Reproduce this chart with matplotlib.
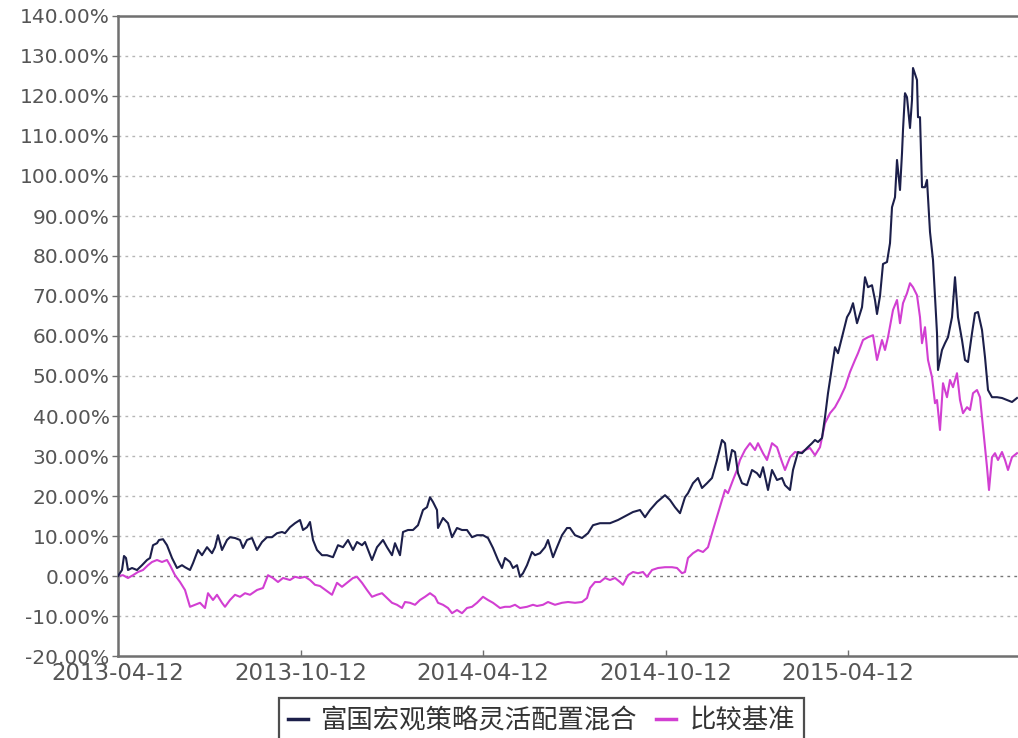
import matplotlib
matplotlib.use("Agg")
import matplotlib.pyplot as plt
import pandas as pd

# 富国宏观策略灵活配置混合 - cumulative return (%)
fund_dates = [
    "2013-04-12", "2013-04-16", "2013-04-18", "2013-04-20", "2013-04-22", "2013-04-26",
    "2013-05-01", "2013-05-06", "2013-05-11", "2013-05-14", "2013-05-17", "2013-05-21",
    "2013-05-23", "2013-05-27", "2013-05-31", "2013-06-05", "2013-06-10", "2013-06-15",
    "2013-06-18", "2013-06-23", "2013-06-26", "2013-07-01", "2013-07-05", "2013-07-10",
    "2013-07-15", "2013-07-18", "2013-07-21", "2013-07-25", "2013-07-30", "2013-08-02",
    "2013-08-07", "2013-08-12", "2013-08-15", "2013-08-19", "2013-08-24", "2013-08-29",
    "2013-09-03", "2013-09-08", "2013-09-13", "2013-09-18", "2013-09-23", "2013-09-26",
    "2013-10-01", "2013-10-06", "2013-10-11", "2013-10-14", "2013-10-18", "2013-10-21",
    "2013-10-24", "2013-10-28", "2013-11-02", "2013-11-07", "2013-11-13", "2013-11-18",
    "2013-11-23", "2013-11-28", "2013-12-03", "2013-12-07", "2013-12-12", "2013-12-15",
    "2013-12-22", "2013-12-27", "2014-01-02", "2014-01-06", "2014-01-11", "2014-01-14",
    "2014-01-19", "2014-01-22", "2014-01-27", "2014-02-01", "2014-02-06", "2014-02-11",
    "2014-02-15", "2014-02-18", "2014-02-21", "2014-02-25", "2014-02-26", "2014-03-03",
    "2014-03-08", "2014-03-12", "2014-03-17", "2014-03-22", "2014-03-27", "2014-04-01",
    "2014-04-06", "2014-04-12", "2014-04-17", "2014-04-22", "2014-04-27", "2014-05-01",
    "2014-05-04", "2014-05-09", "2014-05-12", "2014-05-16", "2014-05-19", "2014-05-22",
    "2014-05-26", "2014-05-31", "2014-06-03", "2014-06-08", "2014-06-13", "2014-06-16",
    "2014-06-21", "2014-06-25", "2014-06-30", "2014-07-05", "2014-07-08", "2014-07-13",
    "2014-07-20", "2014-07-26", "2014-07-31", "2014-08-07", "2014-08-17", "2014-08-25",
    "2014-09-03", "2014-09-09", "2014-09-16", "2014-09-21", "2014-09-26", "2014-10-03",
    "2014-10-11", "2014-10-16", "2014-10-21", "2014-10-26", "2014-10-31", "2014-11-03",
    "2014-11-08", "2014-11-13", "2014-11-17", "2014-11-22", "2014-11-27", "2014-12-02",
    "2014-12-07", "2014-12-10", "2014-12-13", "2014-12-17", "2014-12-20", "2014-12-23",
    "2014-12-27", "2015-01-01", "2015-01-06", "2015-01-11", "2015-01-14", "2015-01-17",
    "2015-01-22", "2015-01-26", "2015-01-31", "2015-02-05", "2015-02-08", "2015-02-13",
    "2015-02-16", "2015-02-21", "2015-02-25", "2015-03-02", "2015-03-07", "2015-03-10",
    "2015-03-13", "2015-03-17", "2015-03-20", "2015-03-23", "2015-03-27", "2015-03-30",
    "2015-04-02", "2015-04-07", "2015-04-11", "2015-04-14", "2015-04-17", "2015-04-21",
    "2015-04-26", "2015-04-29", "2015-05-02", "2015-05-06", "2015-05-09", "2015-05-11",
    "2015-05-14", "2015-05-17", "2015-05-21", "2015-05-24", "2015-05-26", "2015-05-29",
    "2015-05-31", "2015-06-03", "2015-06-05", "2015-06-06", "2015-06-08", "2015-06-10",
    "2015-06-13", "2015-06-15", "2015-06-16", "2015-06-20", "2015-06-21", "2015-06-23",
    "2015-06-25", "2015-06-28", "2015-06-30", "2015-07-03", "2015-07-06", "2015-07-08",
    "2015-07-10", "2015-07-11", "2015-07-15", "2015-07-18", "2015-07-21", "2015-07-25",
    "2015-07-28", "2015-07-31", "2015-08-04", "2015-08-07", "2015-08-10", "2015-08-14",
    "2015-08-17", "2015-08-20", "2015-08-24", "2015-08-27", "2015-08-30", "2015-09-03",
    "2015-09-08", "2015-09-13", "2015-09-18", "2015-09-23", "2015-09-28",
]
fund_values = [
    0.0, 1.5, 5.0, 4.5, 1.5, 2.0,
    1.5, 2.7, 4.0, 4.5, 7.7, 8.2,
    9.0, 9.2, 7.7, 4.5, 2.0, 2.7,
    2.2, 1.5, 3.2, 6.5, 5.2, 7.2,
    5.7, 7.2, 10.2, 6.5, 9.0, 9.7,
    9.5, 9.0, 7.0, 9.0, 9.5, 6.5,
    8.5, 9.7, 9.7, 10.7, 11.0, 10.7,
    12.2, 13.2, 14.0, 11.5, 12.2, 13.5,
    9.0, 6.5, 5.2, 5.2, 4.7, 7.7,
    7.2, 9.0, 6.5, 8.5, 7.7, 8.5,
    4.0, 7.2, 9.0, 7.2, 5.2, 8.2,
    5.2, 11.0, 11.5, 11.5, 12.7, 16.5,
    17.2, 19.7, 18.5, 16.5, 12.0, 14.5,
    13.2, 9.7, 12.0, 11.5, 11.5, 9.7,
    10.2, 10.2, 9.5, 7.0, 4.0, 2.0,
    4.5, 3.5, 2.0, 2.7, -0.2, 0.7,
    2.7, 6.0, 5.2, 5.7, 7.2, 9.0,
    4.7, 7.2, 10.2, 12.0, 12.0, 10.2,
    9.5, 10.7, 12.7, 13.2, 13.2, 14.0,
    15.2, 16.0, 16.5, 14.7, 16.5, 18.5,
    20.2, 19.0, 17.2, 15.7, 19.7, 20.7,
    23.2, 24.5, 22.0, 23.2, 24.5, 29.0,
    34.0, 33.2, 26.5, 31.5, 31.0, 25.7,
    23.2, 22.7, 26.5, 25.7, 24.7, 27.2,
    21.5, 26.5, 24.0, 24.5, 22.7, 21.5,
    26.5, 31.0, 30.7, 32.0, 33.2, 34.0,
    33.5, 34.5, 39.7, 45.7, 52.2, 57.2,
    55.7, 60.7, 64.7, 66.0, 68.2, 63.2,
    67.2, 74.7, 72.2, 72.7, 69.0, 65.5,
    70.0, 78.0, 78.5, 83.2, 92.2, 94.7,
    104.0, 96.5, 105.7, 111.5, 120.7, 119.7,
    112.0, 119.0, 127.0, 124.0, 114.7, 114.7,
    97.2, 97.2, 99.0, 86.0, 79.0, 69.7,
    60.7, 51.5, 56.5, 58.2, 59.7, 64.7,
    74.7, 64.7, 59.0, 54.0, 53.5, 60.7,
    65.7, 66.0, 61.5, 54.7, 46.5, 44.7,
    44.7, 44.5, 44.0, 43.5, 44.5,
]

# 比较基准 - cumulative return (%)
bench_dates = [
    "2013-04-12", "2013-04-17", "2013-04-22", "2013-04-27", "2013-05-02", "2013-05-07",
    "2013-05-12", "2013-05-16", "2013-05-21", "2013-05-26", "2013-05-31", "2013-06-03",
    "2013-06-08", "2013-06-13", "2013-06-18", "2013-06-23", "2013-06-28", "2013-07-03",
    "2013-07-08", "2013-07-11", "2013-07-16", "2013-07-20", "2013-07-25", "2013-07-28",
    "2013-08-02", "2013-08-07", "2013-08-12", "2013-08-17", "2013-08-22", "2013-08-29",
    "2013-09-04", "2013-09-09", "2013-09-14", "2013-09-19", "2013-09-24", "2013-10-01",
    "2013-10-06", "2013-10-11", "2013-10-16", "2013-10-21", "2013-10-26", "2013-10-31",
    "2013-11-07", "2013-11-12", "2013-11-17", "2013-11-22", "2013-11-27", "2013-12-03",
    "2013-12-07", "2013-12-12", "2013-12-17", "2013-12-22", "2013-12-27", "2014-01-01",
    "2014-01-06", "2014-01-11", "2014-01-16", "2014-01-21", "2014-01-24", "2014-01-29",
    "2014-02-03", "2014-02-08", "2014-02-13", "2014-02-18", "2014-02-23", "2014-02-26",
    "2014-03-03", "2014-03-08", "2014-03-12", "2014-03-17", "2014-03-22", "2014-03-27",
    "2014-04-01", "2014-04-06", "2014-04-12", "2014-04-17", "2014-04-22", "2014-04-29",
    "2014-05-04", "2014-05-09", "2014-05-14", "2014-05-19", "2014-05-26", "2014-06-01",
    "2014-06-05", "2014-06-11", "2014-06-16", "2014-06-23", "2014-06-30", "2014-07-06",
    "2014-07-13", "2014-07-20", "2014-07-25", "2014-07-28", "2014-08-02", "2014-08-07",
    "2014-08-12", "2014-08-17", "2014-08-22", "2014-08-27", "2014-08-30", "2014-09-04",
    "2014-09-09", "2014-09-14", "2014-09-19", "2014-09-23", "2014-09-28", "2014-10-04",
    "2014-10-11", "2014-10-18", "2014-10-23", "2014-10-28", "2014-10-31", "2014-11-03",
    "2014-11-08", "2014-11-13", "2014-11-18", "2014-11-23", "2014-11-28", "2014-12-03",
    "2014-12-07", "2014-12-10", "2014-12-13", "2014-12-18", "2014-12-22", "2014-12-25",
    "2014-12-30", "2015-01-04", "2015-01-09", "2015-01-12", "2015-01-17", "2015-01-21",
    "2015-01-26", "2015-01-31", "2015-02-05", "2015-02-08", "2015-02-13", "2015-02-18",
    "2015-02-23", "2015-02-28", "2015-03-05", "2015-03-10", "2015-03-15", "2015-03-20",
    "2015-03-25", "2015-03-30", "2015-04-04", "2015-04-09", "2015-04-14", "2015-04-19",
    "2015-04-22", "2015-04-27", "2015-05-02", "2015-05-07", "2015-05-11", "2015-05-16",
    "2015-05-19", "2015-05-22", "2015-05-27", "2015-05-31", "2015-06-03", "2015-06-06",
    "2015-06-10", "2015-06-13", "2015-06-16", "2015-06-20", "2015-06-23", "2015-06-25",
    "2015-06-28", "2015-07-01", "2015-07-05", "2015-07-08", "2015-07-10", "2015-07-13",
    "2015-07-16", "2015-07-20", "2015-07-23", "2015-07-26", "2015-07-30", "2015-08-02",
    "2015-08-05", "2015-08-09", "2015-08-12", "2015-08-15", "2015-08-19", "2015-08-22",
    "2015-08-25", "2015-08-29", "2015-08-31", "2015-09-03", "2015-09-06", "2015-09-09",
    "2015-09-13", "2015-09-16", "2015-09-19", "2015-09-23", "2015-09-28",
]
bench_values = [
    0.0, 0.2, -0.5, 0.2, 1.0, 1.5,
    2.7, 3.5, 4.0, 3.5, 4.0, 2.7,
    0.2, -1.5, -3.5, -7.7, -7.2, -6.7,
    -8.0, -4.3, -6.0, -4.7, -6.7, -7.7,
    -6.0, -4.7, -5.2, -4.3, -4.7, -3.5,
    -3.0, 0.2, -0.5, -1.5, -0.5, -1.0,
    -0.2, -0.5, -0.2, -1.0, -2.2, -2.5,
    -3.8, -4.7, -1.7, -2.7, -1.7, -0.5,
    -0.2, -1.7, -3.5, -5.2, -4.7, -4.3,
    -5.5, -6.7, -7.2, -8.0, -6.5, -6.7,
    -7.2, -6.0, -5.2, -4.3, -5.2, -6.7,
    -7.2, -8.0, -9.3, -8.5, -9.3, -8.0,
    -7.7, -6.7, -5.2, -6.0, -6.7, -8.0,
    -7.7, -7.7, -7.2, -8.0, -7.7, -7.2,
    -7.5, -7.2, -6.5, -7.2, -6.7, -6.5,
    -6.7, -6.5, -5.5, -3.0, -1.5, -1.5,
    -0.5, -1.0, -0.5, -1.5, -2.2, 0.2,
    1.0, 0.7, 1.0, -0.2, 1.5, 2.0,
    2.2, 2.2, 2.0, 0.7, 1.0, 4.5,
    5.7, 6.5, 6.0, 7.2, 11.5, 15.7,
    19.0, 21.5, 20.7, 24.0, 26.5, 29.0,
    31.5, 33.2, 31.5, 33.2, 30.7, 29.0,
    33.2, 32.2, 28.5, 26.5, 29.7, 31.0,
    30.7, 31.5, 32.0, 30.2, 32.2, 38.2,
    40.7, 42.2, 44.5, 47.2, 51.0, 54.0,
    55.7, 59.0, 59.7, 60.2, 54.0, 59.0,
    56.5, 59.7, 66.5, 69.0, 63.2, 68.2,
    70.7, 73.2, 72.2, 70.2, 64.7, 58.2,
    62.2, 54.0, 49.7, 43.2, 44.0, 36.5,
    48.2, 44.7, 49.0, 47.2, 50.7, 44.0,
    40.7, 42.2, 41.5, 45.7, 46.5, 44.7,
    37.2, 27.2, 21.5, 29.7, 30.7, 29.0,
    31.0, 29.0, 26.5, 29.7, 30.7,
]

x_ticks = ["2013-04-12", "2013-10-12", "2014-04-12", "2014-10-12", "2015-04-12"]
y_ticks = list(range(-20, 141, 10))
x_range = ["2013-04-12", "2015-09-29"]
series_names = ["富国宏观策略灵活配置混合", "比较基准"]

plt.rcParams["font.family"] = ["DejaVu Sans", "Noto Sans CJK SC"]

fig = plt.figure(figsize=(10.18, 7.38), dpi=100)
ax = fig.add_axes([118 / 1018, 82 / 738, 900 / 1018, 640 / 738])

fd = pd.to_datetime(fund_dates)
bd = pd.to_datetime(bench_dates)
ax.plot(fd, fund_values, color="#1c1f4a", linewidth=1.5, label=series_names[0], zorder=3)
ax.plot(bd, bench_values, color="#d23fd2", linewidth=1.5, label=series_names[1], zorder=2)

ax.set_xlim(pd.to_datetime(x_range[0]), pd.to_datetime(x_range[1]))
ax.set_ylim(-20, 140)

ax.set_yticks(y_ticks)
ax.set_yticklabels([f"{v:.2f}%" for v in y_ticks])
ax.set_xticks(pd.to_datetime(x_ticks))
ax.set_xticklabels(x_ticks)

# dotted horizontal grid, darker at zero
for v in y_ticks[1:-1]:
    ax.axhline(v, color="#777777" if v == 0 else "#b5b5b5",
               linestyle=(0, (2, 3)), linewidth=1.0, zorder=1)

for side in ["left", "bottom", "top"]:
    ax.spines[side].set_color("#707070")
    ax.spines[side].set_linewidth(1.8)
ax.spines["right"].set_visible(False)

ax.tick_params(axis="y", labelsize=14.5, labelcolor="#555555", color="#707070",
               length=4, width=1, pad=2)
ax.tick_params(axis="x", labelsize=16.5, labelcolor="#555555", color="#707070",
               length=4, width=1, direction="in", pad=4)

leg = fig.legend(loc="upper left", bbox_to_anchor=(279 / 1018, 1 - 698 / 738),
                 borderaxespad=0, ncol=2, frameon=True, fancybox=False,
                 handlelength=0.75, handletextpad=0.5, columnspacing=0.7,
                 borderpad=0.35, prop={"family": ["Noto Sans CJK SC"], "size": 19})
leg.get_frame().set_edgecolor("#222222")
leg.get_frame().set_linewidth(1.6)
for h in leg.legend_handles:
    h.set_linewidth(2.5)
for t in leg.get_texts():
    t.set_color("#333333")

fig.savefig("out.png", dpi=100, facecolor="white")
plt.close(fig)
